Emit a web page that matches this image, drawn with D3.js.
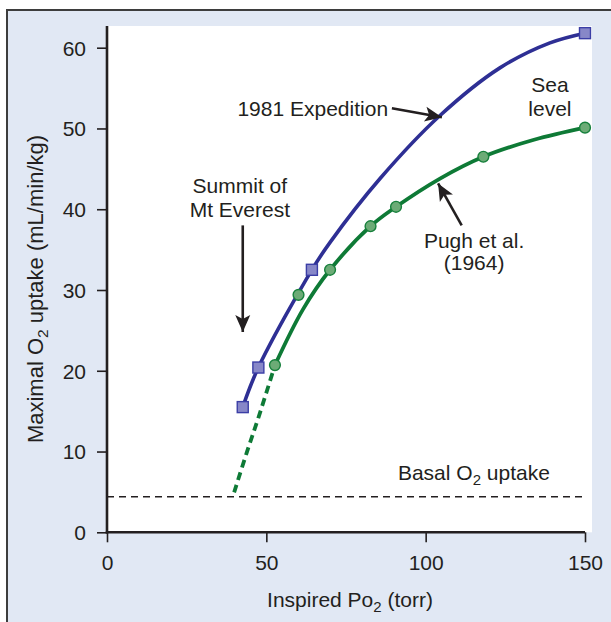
<!DOCTYPE html>
<html>
<head>
<meta charset="utf-8">
<script src="https://cdn.jsdelivr.net/npm/d3@7"></script>
<style>
  html, body { margin: 0; padding: 0; background: #ffffff; }
  svg { display: block; }
  text { font-family: "Liberation Sans", Arial, Helvetica, sans-serif; fill: #231f20; }
</style>
</head>
<body>
<svg id="chart" width="611" height="622"></svg>
<script>
// ---------- data ----------
const xTicks = [0, 50, 100, 150];
const yTicks = [0, 10, 20, 30, 40, 50, 60];

// 1981 Expedition markers
const expX = [42.6, 47.5, 64.3, 150];
const expY = [15.5, 20.4, 32.5, 61.8];
// 1981 Expedition curve
const expCurveX = [42.6, 47.5, 64.3, 70, 85.7, 104.5, 123.3, 139, 150];
const expCurveY = [15.5, 20.4, 32.5, 35.9, 43.8, 51.6, 57.5, 60.6, 61.8];

// Pugh et al. (1964) markers
const pughX = [52.7, 60.1, 70.0, 82.7, 90.7, 118.1, 150];
const pughY = [20.7, 29.4, 32.5, 37.9, 40.3, 46.5, 50.1];
// Pugh curve (solid part)
const pughCurveX = [52.7, 61.5, 70.0, 82.7, 90.7, 104.5, 118.1, 134, 150];
const pughCurveY = [20.7, 27.6, 32.5, 37.9, 40.3, 43.8, 46.5, 48.6, 50.1];
// Pugh extrapolation (dashed)
const pughDashX = [39.9, 43.8, 47.6, 52.7];
const pughDashY = [4.95, 9.8, 14.3, 20.7];

const basalO2 = 4.4;

// ---------- layout ----------
const W = 611, H = 622;
const plotLeft = 107, plotRight = 585, plotTop = 26, plotBottom = 532.3;
const x = d3.scaleLinear().domain([0, 150]).range([plotLeft, plotRight]);
const y = d3.scaleLinear().domain([0, 60]).range([plotBottom, 47.7]);

const svg = d3.select("#chart");
const ink = "#231f20";
const blue = "#2e2f94";
const green = "#0e7a36";
const fs = 21;

// outer panel
svg.append("rect").attr("x", 7).attr("y", 10).attr("width", W + 10).attr("height", H + 10)
  .attr("fill", "#e1e8f4").attr("stroke", "#3d3d3d").attr("stroke-width", 2);

// plot area
svg.append("rect").attr("x", plotLeft).attr("y", plotTop)
  .attr("width", 592 - plotLeft).attr("height", plotBottom - plotTop).attr("fill", "#ffffff");

// defs: arrowhead
const defs = svg.append("defs");
defs.append("marker").attr("id", "arrow")
  .attr("markerUnits", "userSpaceOnUse")
  .attr("viewBox", "-18 -8 20 16")
  .attr("refX", 0).attr("refY", 0)
  .attr("markerWidth", 20).attr("markerHeight", 16)
  .attr("orient", "auto")
  .append("path").attr("d", "M0,0 L-17,-7.5 L-13,0 L-17,7.5 Z").attr("fill", ink);

// basal dashed line
svg.append("line")
  .attr("x1", x(0)).attr("x2", x(150))
  .attr("y1", y(basalO2)).attr("y2", y(basalO2))
  .attr("stroke", ink).attr("stroke-width", 1.3).attr("stroke-dasharray", "7,5");

// axes
const xAxis = d3.axisBottom(x).tickValues(xTicks).tickSize(10).tickPadding(8);
const yAxis = d3.axisLeft(y).tickValues(yTicks).tickSize(10).tickPadding(11);

const gx = svg.append("g").attr("transform", `translate(0,${plotBottom})`).call(xAxis);
const gy = svg.append("g").attr("transform", `translate(${plotLeft},0)`).call(yAxis);
[gx, gy].forEach(g => {
  g.select(".domain").remove();
  g.selectAll(".tick line").attr("stroke", ink).attr("stroke-width", 1.6);
  g.selectAll(".tick text").attr("font-size", fs).attr("fill", ink)
    .style("font-family", '"Liberation Sans", Arial, sans-serif');
});
gx.selectAll(".tick text").attr("dy", "0.95em");
gy.selectAll(".tick text").attr("dy", "0.35em");

// axis lines
svg.append("line").attr("x1", plotLeft).attr("x2", plotLeft)
  .attr("y1", plotTop).attr("y2", plotBottom + 1.2)
  .attr("stroke", ink).attr("stroke-width", 2.6);
svg.append("line").attr("x1", plotLeft - 1.2).attr("x2", x(150))
  .attr("y1", plotBottom).attr("y2", plotBottom)
  .attr("stroke", ink).attr("stroke-width", 2.6);

// curves
const line = d3.line().x(d => x(d[0])).y(d => y(d[1])).curve(d3.curveCatmullRom.alpha(0.5));

svg.append("path").datum(d3.zip(pughDashX, pughDashY))
  .attr("d", line).attr("fill", "none").attr("stroke", green)
  .attr("stroke-width", 3.8).attr("stroke-dasharray", "8,5");

svg.append("path").datum(d3.zip(pughCurveX, pughCurveY))
  .attr("d", line).attr("fill", "none").attr("stroke", green).attr("stroke-width", 3.8);

svg.append("path").datum(d3.zip(expCurveX, expCurveY))
  .attr("d", line).attr("fill", "none").attr("stroke", blue).attr("stroke-width", 3.6);

// markers
svg.append("g").selectAll("circle").data(d3.zip(pughX, pughY)).join("circle")
  .attr("cx", d => x(d[0])).attr("cy", d => y(d[1])).attr("r", 5.4)
  .attr("fill", "#6cab76").attr("stroke", "#17803c").attr("stroke-width", 1.4);

const sq = 11;
svg.append("g").selectAll("rect").data(d3.zip(expX, expY)).join("rect")
  .attr("x", d => x(d[0]) - sq / 2).attr("y", d => y(d[1]) - sq / 2)
  .attr("width", sq).attr("height", sq)
  .attr("fill", "#8787c8").attr("stroke", "#3b3ea6").attr("stroke-width", 1.4);

// annotations
function txt(tx, ty, s, anchor) {
  return svg.append("text").attr("x", x(tx)).attr("y", y(ty))
    .attr("font-size", fs).attr("text-anchor", anchor || "middle").text(s);
}
function arrow(x1, y1, x2, y2) {
  svg.append("line").attr("x1", x(x1)).attr("y1", y(y1)).attr("x2", x(x2)).attr("y2", y(y2))
    .attr("stroke", ink).attr("stroke-width", 2.6).attr("marker-end", "url(#arrow)");
}

txt(88.2, 51.6, "1981 Expedition", "end");
arrow(89.4, 52.5, 105.1, 51.4);

txt(41.7, 42.0, "Summit of");
txt(41.7, 39.0, "Mt Everest");
arrow(42.6, 38.0, 42.6, 24.8);

txt(115.2, 35.2, "Pugh et al.");
txt(115.2, 32.5, "(1964)");
arrow(111.3, 38.0, 103.9, 43.2);

txt(139, 54.5, "Sea");
txt(139, 51.6, "level");

// Basal O2 uptake
const basal = svg.append("text").attr("x", x(91.3)).attr("y", y(6.5)).attr("font-size", fs);
basal.append("tspan").text("Basal O");
basal.append("tspan").attr("font-size", 15).attr("dy", 5).text("2");
basal.append("tspan").attr("dy", -5).text(" uptake");

// x label
const xl = svg.append("text").attr("x", 350).attr("y", 607)
  .attr("font-size", fs).attr("text-anchor", "middle");
xl.append("tspan").text("Inspired Po");
xl.append("tspan").attr("font-size", 15).attr("dy", 5).text("2");
xl.append("tspan").attr("dy", -5).text(" (torr)");

// y label
const yl = svg.append("text").attr("transform", "translate(43,289) rotate(-90)")
  .attr("font-size", 22).attr("text-anchor", "middle");
yl.append("tspan").text("Maximal O");
yl.append("tspan").attr("font-size", 15.5).attr("dy", 5).text("2");
yl.append("tspan").attr("dy", -5).text(" uptake (mL/min/kg)");
</script>
</body>
</html>
